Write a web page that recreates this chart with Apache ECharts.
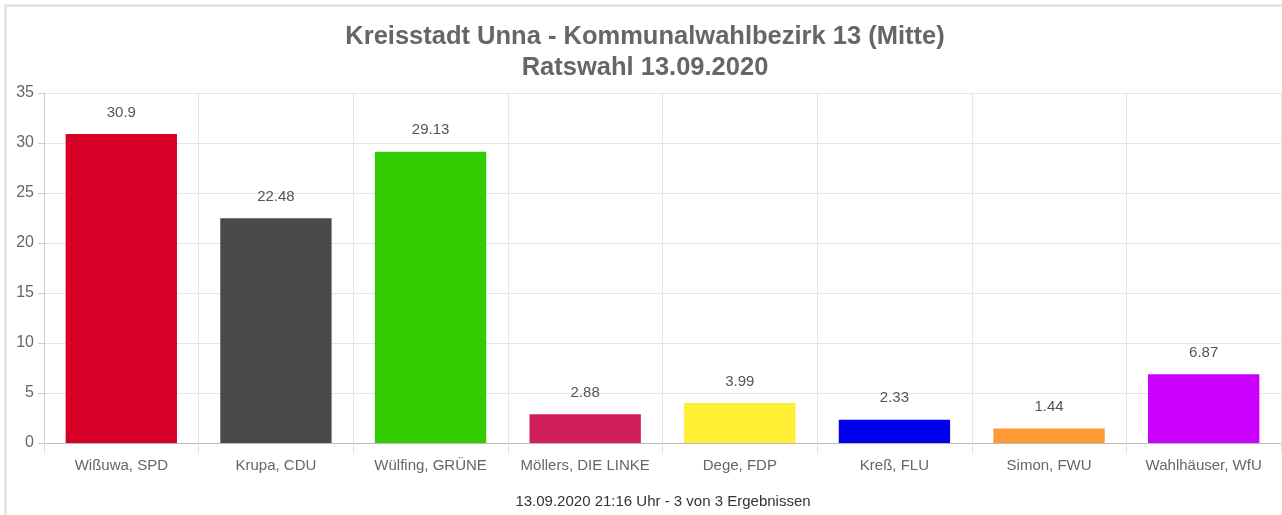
<!DOCTYPE html>
<html>
<head>
<meta charset="utf-8">
<script src="https://cdn.jsdelivr.net/npm/echarts@6/dist/echarts.min.js"></script>
<style>
  html, body { margin: 0; padding: 0; background: #fff; }
  #main { width: 1282px; height: 515px; }
</style>
</head>
<body>
<div id="main"></div>
<script>
const candidates = ["Wißuwa, SPD", "Krupa, CDU", "Wülfing, GRÜNE", "Möllers, DIE LINKE", "Dege, FDP", "Kreß, FLU", "Simon, FWU", "Wahlhäuser, WfU"];
const shares = [30.9, 22.48, 29.13, 2.88, 3.99, 2.33, 1.44, 6.87];
const partyColors = ["#d60027", "#4a4a4a", "#33cc00", "#d11d5b", "#ffee33", "#0000ee", "#ff9933", "#cc00ff"];
const yTicks = { min: 0, max: 35, step: 5 };

const chart = echarts.init(document.getElementById("main"));
const font = "Liberation Sans, Arial, sans-serif";

const titleLine = (text, y) => ({
    type: "text",
    x: 645,
    y: y,
    style: {
        text: text,
        font: "bold 25.5px " + font,
        fill: "#666",
        textAlign: "center",
        textVerticalAlign: "middle"
    }
});

chart.setOption({
    animation: false,
    graphic: [
        {
            type: "rect",
            shape: { x: 5.5, y: 5.5, width: 1290, height: 520 },
            style: { fill: "none", stroke: "#dcdcdc", lineWidth: 2 }
        },
        titleLine("Kreisstadt Unna - Kommunalwahlbezirk 13 (Mitte)", 37),
        titleLine("Ratswahl 13.09.2020", 68),
        {
            type: "text",
            x: 663,
            y: 502,
            style: {
                text: "13.09.2020 21:16 Uhr - 3 von 3 Ergebnissen",
                font: "15px " + font,
                fill: "#333",
                textAlign: "center",
                textVerticalAlign: "middle"
            }
        }
    ],
    grid: { left: 44, right: 1, top: 93, bottom: 72 },
    xAxis: {
        type: "category",
        data: candidates,
        axisLine: { lineStyle: { color: "#bbb" } },
        axisTick: { show: true, interval: 0, length: 10, lineStyle: { color: "#ddd" } },
        axisLabel: { interval: 0, margin: 15, fontFamily: font, fontSize: 15, color: "#666" },
        splitLine: { show: true, interval: 0, lineStyle: { color: "#e6e6e6" } }
    },
    yAxis: {
        type: "value",
        min: yTicks.min,
        max: yTicks.max,
        interval: yTicks.step,
        axisLine: { show: true, lineStyle: { color: "#ccc" } },
        axisTick: { show: true, length: 6, lineStyle: { color: "#ccc" } },
        axisLabel: { margin: 10, fontFamily: font, fontSize: 16, color: "#666" },
        splitLine: { lineStyle: { color: "#e6e6e6" } }
    },
    series: [{
        type: "bar",
        barWidth: "72%",
        data: shares.map((v, i) => ({ value: v, itemStyle: { color: partyColors[i] } })),
        label: {
            show: true,
            position: "top",
            distance: 14,
            fontFamily: font,
            fontSize: 15,
            color: "#555"
        }
    }]
});
</script>
</body>
</html>
